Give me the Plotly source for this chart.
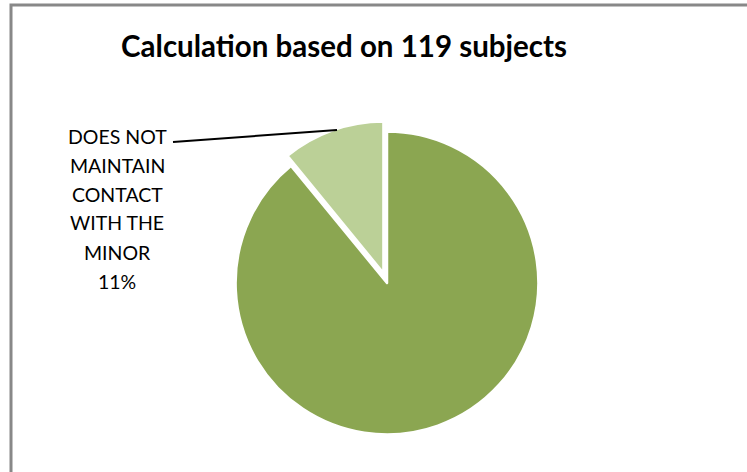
import plotly.graph_objects as go

# data
labels = ["MAINTAINS CONTACT WITH THE MINOR", "DOES NOT MAINTAIN CONTACT WITH THE MINOR"]
subjects = [106, 13]
colors = ["#8BA651", "#BBD097"]
pulls = [0, 0.07]
title_text = "Calculation based on 119 subjects"
label_lines = ["DOES NOT", "MAINTAIN", "CONTACT", "WITH THE", "MINOR", "11%"]

W, H = 747, 472
FONT = "Lato, 'Open Sans', sans-serif"

fig = go.Figure()
fig.add_trace(go.Pie(
    labels=labels,
    values=subjects,
    sort=False,
    direction="clockwise",
    rotation=0,
    pull=pulls,
    marker=dict(colors=colors, line=dict(color="white", width=2.5)),
    textinfo="none",
    hoverinfo="label+percent",
    showlegend=False,
    domain=dict(x=[(387 - 162) / W, (387 + 162) / W],
                y=[(H - 283 - 162) / H, (H - 283 + 162) / H]),
))

# label of the small slice, one line per annotation to get the line spacing
for i, line in enumerate(label_lines):
    fig.add_annotation(
        text=line, x=117 / W, y=1 - (136 + 29 * i) / H,
        xref="paper", yref="paper", showarrow=False,
        xanchor="center", yanchor="middle",
        font=dict(family=FONT, size=19.5, color="black"),
    )

# leader line + chart frame
fig.add_shape(type="line", xref="paper", yref="paper",
              x0=173 / W, y0=1 - 142 / H, x1=337 / W, y1=1 - 130 / H,
              line=dict(color="black", width=2))
fig.add_shape(type="rect", xref="paper", yref="paper",
              x0=11 / W, y0=-0.2, x1=1.2, y1=1 - 5 / H,
              line=dict(color="#888888", width=3))

fig.update_layout(
    width=W, height=H,
    margin=dict(l=0, r=0, t=0, b=0),
    paper_bgcolor="white",
    plot_bgcolor="white",
    title=dict(text="<b>" + title_text + "</b>", x=344 / W, xanchor="center",
               y=1 - 47 / H, yanchor="middle",
               font=dict(family=FONT, size=29.5, color="black")),
)

fig.write_html("out.html", config={"displayModeBar": False},
               post_script="document.body.style.margin='0';")
